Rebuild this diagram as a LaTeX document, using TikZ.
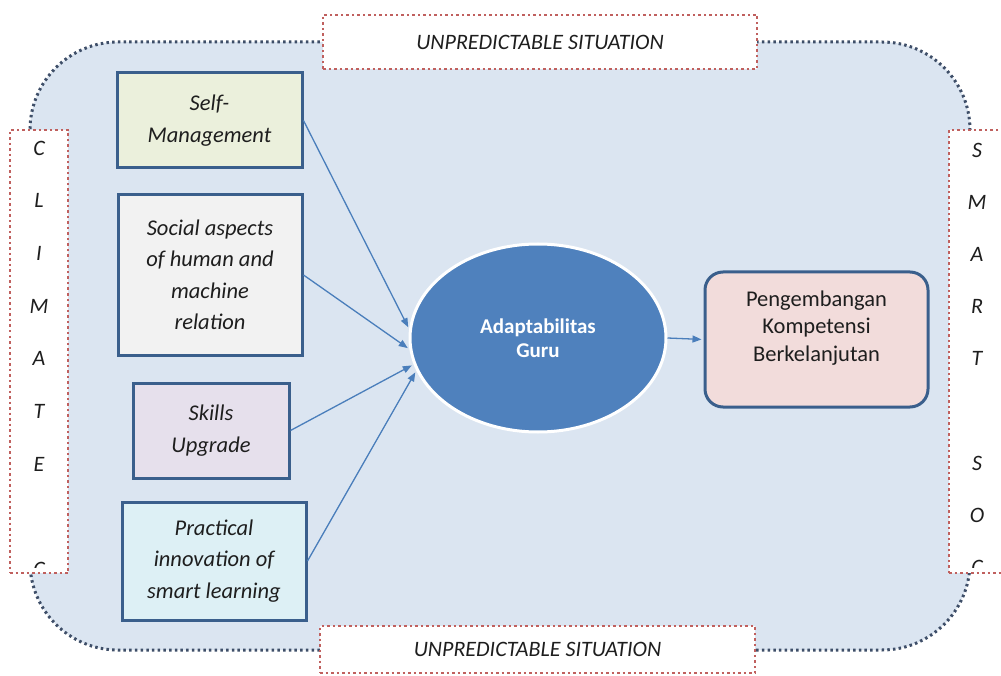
\documentclass[tikz,border=0pt]{standalone}
\usepackage{fontspec}
\setmainfont{Carlito}
\usetikzlibrary{arrows.meta,shapes.geometric}
\definecolor{bgblue}{HTML}{DBE5F1}
\definecolor{framecol}{HTML}{3E4E68}
\definecolor{reddot}{HTML}{C0605E}
\definecolor{boxline}{HTML}{3A5F8C}
\definecolor{arrowblue}{HTML}{4A7EBB}
\definecolor{ellblue}{HTML}{4F81BD}
\definecolor{fself}{HTML}{EBF0DC}
\definecolor{fsocial}{HTML}{F2F2F2}
\definecolor{fskill}{HTML}{E6E0EC}
\definecolor{fpract}{HTML}{DDF0F5}
\definecolor{fpeng}{HTML}{F2DCDB}
\definecolor{txt}{HTML}{1E1E1E}
\begin{document}
\begin{tikzpicture}[x=1pt,y=-1pt,
  bgframe/.style={draw=framecol,fill=bgblue,line width=3pt,dash pattern=on 2.5pt off 3.2pt,rounded corners=88pt},
  labelbox/.style={draw=reddot,fill=white,line width=2.8pt,dash pattern=on 2.5pt off 3pt,inner sep=0pt,
    font=\fontsize{22}{26}\selectfont\itshape,text=txt},
  factorbox/.style={draw=boxline,line width=3pt,align=center,text=txt,inner sep=0pt,
    font=\fontsize{22.5}{31.5}\selectfont\itshape},
  vletter/.style={font=\fontsize{22}{26}\selectfont\itshape,text=txt,inner sep=0pt},
  conn/.style={draw=arrowblue,line width=1.3pt,-{Triangle[length=9pt,width=7pt]},shorten >=2pt}
]
\useasboundingbox (0,0) rectangle (1001,676);
% background frame
\draw[bgframe] (30,42) rectangle (970,650);

% side label boxes
\node[labelbox,minimum width=58pt,minimum height=443pt] (climate) at (39,351.5) {};
\node[labelbox,minimum width=56pt,minimum height=443pt] (smart) at (977,351.5) {};
\begin{scope}
  \clip ([yshift=7pt]climate.south west) rectangle (climate.north east);
  \foreach \L [count=\i from 0] in {C,L,I,M,A,T,E,{},C}
    \node[vletter] at (39,148+52.7*\i) {\L};
\end{scope}
\begin{scope}
  \clip ([yshift=7pt]smart.south west) rectangle (smart.north east);
  \foreach \L [count=\i from 0] in {S,M,A,R,T,{},S,O,C}
    \node[vletter] at (977,150+52.2*\i) {\L};
\end{scope}

% top / bottom labels
\node[labelbox,minimum width=434pt,minimum height=54pt] (top) at (540,42) {UNPREDICTABLE SITUATION};
\node[labelbox,minimum width=435pt,minimum height=47pt] (bottom) at (537.5,649.5) {UNPREDICTABLE SITUATION};

% factor boxes
\node[factorbox,fill=fself,minimum width=185pt,minimum height=95pt] (self) at (209.5,120.5) {Self-\\Management};
\node[factorbox,fill=fsocial,minimum width=184pt,minimum height=160pt] (social) at (210,275) {Social aspects\\of human and\\machine\\relation};
\node[factorbox,fill=fskill,minimum width=156pt,minimum height=95pt] (skills) at (211,430.5) {Skills\\Upgrade};
\node[factorbox,fill=fpract,minimum width=184pt,minimum height=118pt] (pract) at (214,561) {Practical\\innovation of\\smart learning};

% central ellipse
\node[ellipse,fill=ellblue,draw=white,line width=3pt,minimum width=256pt,minimum height=188pt,inner sep=0pt,
  text=white,align=center,font=\fontsize{21}{24}\selectfont\bfseries] (ell) at (538,338) {Adaptabilitas\\Guru};

% outcome box
\node[draw=boxline,line width=3pt,fill=fpeng,rounded corners=18pt,minimum width=223pt,minimum height=135pt,
  inner sep=0pt,align=center,text=txt,font=\fontsize{22.5}{27.5}\selectfont] (peng) at (816.5,339.5)
  {Pengembangan\\Kompetensi\\Berkelanjutan\\[0pt]};

% connectors
\draw[conn] (self.east) -- (ell.176);
\draw[conn] (social.east) -- (ell.185);
\draw[conn] (skills.east) -- (ell.192);
\draw[conn] (pract.east) -- (ell.195);
\draw[conn] (ell.east) -- (peng.west);
\end{tikzpicture}
\end{document}
